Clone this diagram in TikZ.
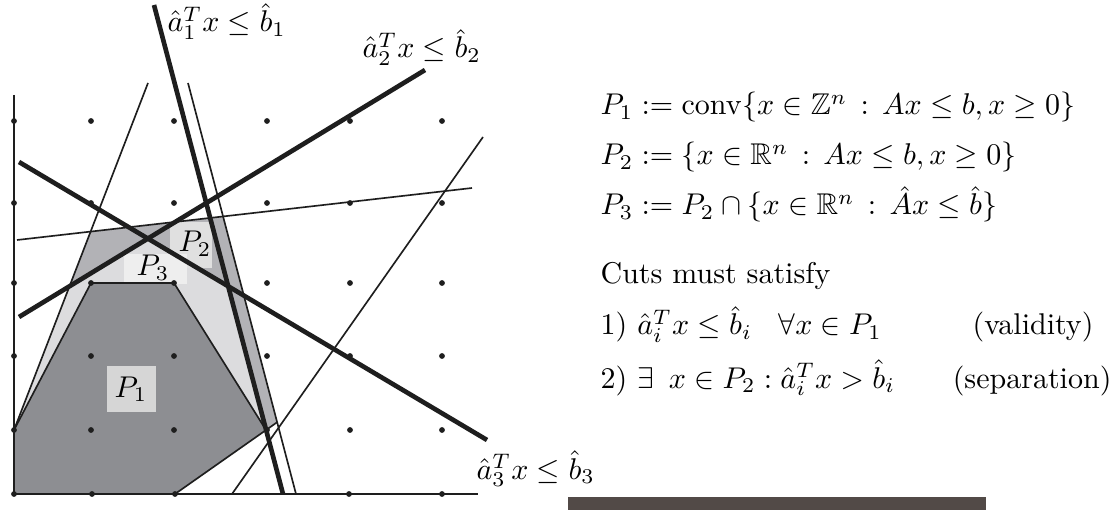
\documentclass[tikz,border=0pt]{standalone}
\usepackage{amsmath,amssymb}
\definecolor{inkc}{HTML}{1E1E1E}
\definecolor{darkg}{HTML}{8D8E92}
\definecolor{midg}{HTML}{B2B2B6}
\definecolor{lightg}{HTML}{DCDCDE}
\definecolor{boxone}{HTML}{D6D6D6}
\definecolor{boxtwo}{HTML}{E0E0E0}
\definecolor{boxthree}{HTML}{EEEEEE}
\definecolor{barc}{HTML}{524A47}
\tikzset{
  thinline/.style={draw=inkc, line width=0.55pt},
  cutline/.style={draw=inkc, line width=1.55pt},
  axisline/.style={draw=inkc, line width=0.75pt},
  latt/.style={fill=inkc, draw=none},
  txt/.style={inner sep=0pt, anchor=base west, font=\fontsize{10}{12}\selectfont},
  plabel/.style={inner sep=0pt, font=\fontsize{10}{12}\selectfont}
}
\begin{document}
\begin{tikzpicture}[x=0.33333pt, y=-0.33333pt]
\useasboundingbox (0,0) rectangle (1115,510);
% key coordinates
\coordinate (O) at (14,494);
\coordinate (Ytop) at (14,95);
\coordinate (Xend) at (478,494);
\coordinate (L1) at (14,430); \coordinate (L2) at (148,83);
\coordinate (R1) at (188,83); \coordinate (R2) at (296,494);
\coordinate (T1) at (17,240); \coordinate (T2) at (472,188);
\coordinate (F1) at (232,494); \coordinate (F2) at (483,137);
\coordinate (A1s) at (154,5); \coordinate (A1e) at (283,494);
\coordinate (A2s) at (19,317); \coordinate (A2e) at (425,70);
\coordinate (A3s) at (19,162); \coordinate (A3e) at (487,440);
\coordinate (V1) at (91,283); \coordinate (V2) at (174,283);
\coordinate (E2) at (266,430); \coordinate (E1) at (175,494);
% P2 corners
\coordinate (P2a) at (intersection of L1--L2 and T1--T2);
\coordinate (P2b) at (intersection of T1--T2 and R1--R2);
\coordinate (P2c) at (intersection of R1--R2 and E1--E2);
% P3 corners
\coordinate (Q1) at (intersection of L1--L2 and A2s--A2e);
\coordinate (Q2) at (intersection of A2s--A2e and A3s--A3e);
\coordinate (Q3) at (intersection of A3s--A3e and A1s--A1e);
\coordinate (Q4) at (intersection of A1s--A1e and E1--E2);
% fills
\fill[midg] (O) -- (L1) -- (P2a) -- (P2b) -- (P2c) -- (E1) -- cycle;
\fill[lightg] (O) -- (L1) -- (Q1) -- (Q2) -- (Q3) -- (Q4) -- (E1) -- cycle;
\fill[darkg] (O) -- (L1) -- (V1) -- (V2) -- (E2) -- (E1) -- cycle;
% label boxes
\fill[boxone] (107,366) rectangle (156,412);
\fill[boxtwo] (170,222) rectangle (212,268);
\fill[boxthree] (124,254) rectangle (187,284);
% thin lines
\draw[thinline] (L1) -- (L2);
\draw[thinline] (R1) -- (R2);
\draw[thinline] (T1) -- (T2);
\draw[thinline] (F1) -- (F2);
\draw[thinline] (L1) -- (V1) -- (V2) -- (E2);
\draw[thinline] (E1) -- (P2c);
% cuts
\draw[cutline] (A1s) -- (A1e);
\draw[cutline] (A2s) -- (A2e);
\draw[cutline] (A3s) -- (A3e);
% axes
\draw[axisline] (Ytop) -- (O) -- (Xend);
% lattice points
\foreach \px in {14,91,174,267,350,442}{
  \foreach \py in {121,203,283,356,430}{
    \fill[latt] (\px,\py) circle (2.9);
  }
}
\foreach \px in {14,92,175,349,442}{
  \fill[latt] (\px,494) circle (2.9);
}
% polytope labels
\node[plabel] (p1) at (131,389) {$P_1$};
\node[plabel] (p2) at (195,244) {$P_2$};
\node[plabel] (p3) at (153,268) {$P_3$};
% cut labels
\node[txt] (c1) at (167,32) {$\hat a_1^T x \le \hat b_1$};
\node[txt] (c2) at (362,58) {$\hat a_2^T x \le \hat b_2$};
\node[txt] (c3) at (476,479) {$\hat a_3^T x \le \hat b_3$};
% right text
\node[txt] (d1) at (600,115) {$P_1 := \operatorname{conv}\{x\in\mathbb{Z}^n \,:\, Ax\le b, x\ge 0\}$};
\node[txt] (d2) at (600,165) {$P_2 := \{x\in\mathbb{R}^n \,:\, Ax\le b, x\ge 0\}$};
\node[txt] (d3) at (600,215) {$P_3 := P_2\cap\{x\in\mathbb{R}^n \,:\, \hat{A}x\le \hat{b}\}$};
\node[txt] (cuts) at (600,283) {Cuts must satisfy};
\node[txt] (r1a) at (600,335) {1) $\hat a_i^T x\le \hat b_i$};
\node[txt] (r1b) at (778,335) {$\forall x\in P_1$};
\node[txt] (r1c) at (972,335) {(validity)};
\node[txt] (r2a) at (600,388) {2) $\exists\ \, x\in P_2 : \hat a_i^T x > \hat b_i$};
\node[txt, anchor=base east] (r2c) at (1112,388) {(separation)};
% bottom bar
\fill[barc] (568,497) rectangle (986,510);
\end{tikzpicture}
\end{document}
